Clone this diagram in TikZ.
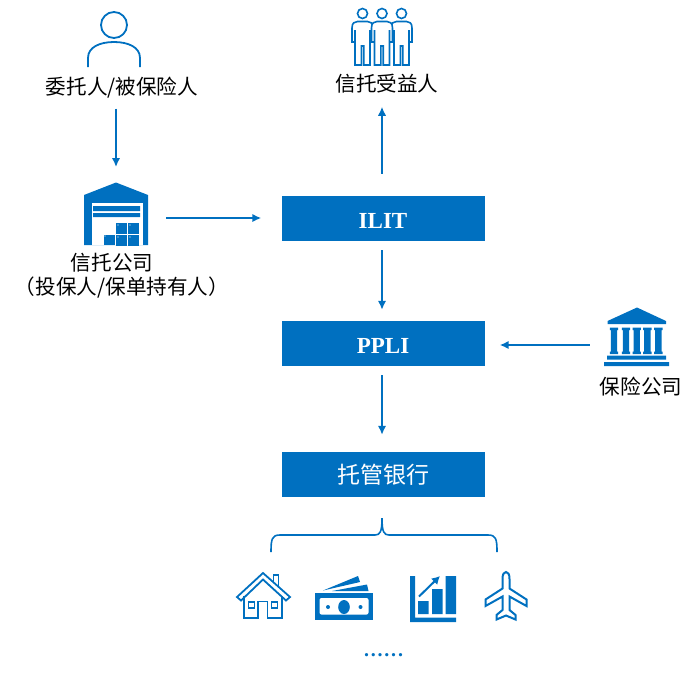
\documentclass[tikz,border=0pt]{standalone}
\usepackage{fontspec}
\setmainfont{Liberation Serif}
\newfontfamily\cjk{Noto Sans CJK SC}
\usepackage{xcolor}
\usetikzlibrary{arrows.meta, positioning}
\definecolor{trustblue}{RGB}{0,112,192}
\tikzset{
  flow/.style={trustblue, line width=1.8pt, -{Latex[length=9pt,width=8.5pt]}},
  bluebox/.style={fill=trustblue, text=white, minimum width=203, minimum height=45, inner sep=0pt},
  latinbox/.style={bluebox, text height=19pt, text depth=0pt, font=\fontsize{23}{25}\selectfont\bfseries},
  iconbox/.style={inner sep=0pt, outer sep=0pt},
  caption/.style={inner sep=0pt, font=\fontsize{20.6}{22}\selectfont\cjk},
  outline/.style={draw=trustblue, line width=1.8pt, line join=miter},
}
\begin{document}
\begin{tikzpicture}[x=1pt, y=-1pt]
  \useasboundingbox (0,0) rectangle (700,673);
  % boxes
  \node[latinbox] (ilit) at (383,218.5) {ILIT};
  \node[latinbox] (ppli) at (383,343.5) {PPLI};
  \node[bluebox, font=\fontsize{23}{25}\selectfont\cjk] (custody) at (383,474.5) {托管银行};
  % icon areas
  \node[iconbox, minimum width=54, minimum height=56] (settlor) at (114,39.5) {};
  \node[iconbox, minimum width=64, minimum height=63] (trustco) at (116,213.5) {};
  \node[iconbox, minimum width=62, minimum height=58] (trio) at (382,37) {};
  \node[iconbox, minimum width=65, minimum height=59] (bank) at (637,337) {};
  \node[iconbox, minimum width=54, minimum height=47] (house) at (263,595) {};
  \node[iconbox, minimum width=58, minimum height=44] (money) at (344,598) {};
  \node[iconbox, minimum width=46, minimum height=46] (chart) at (433,599) {};
  \node[iconbox, minimum width=42, minimum height=50] (plane) at (506,596) {};
  % labels
  \node[caption] (settlorlabel) at (122,88) {委托人/被保险人};
  \node[caption] (trustlabel) at (112,263) {信托公司};
  \node[caption] (holderlabel) at (122,288) {（投保人/保单持有人）};
  \node[caption] (benelabel) at (387,84) {信托受益人};
  \node[caption] (banklabel) at (641,387) {保险公司};
  \node[inner sep=0pt, text=trustblue, font=\fontsize{20}{22}\selectfont\bfseries] (more) at (383.5,655)
    {.\kern1.8pt.\kern1.8pt.\kern1.8pt.\kern1.8pt.\kern1.8pt.};
  % connectors
  \path (ilit.west) ++(0,-0.5) coordinate (ilitentry);
  \path (ppli.east) ++(0,1.5) coordinate (pplientry);
  \draw[flow, shorten <=10pt, shorten >=15pt] (settlor.south -| trustco.north) ++(0,31) -- (trustco.north);
  \draw[flow, shorten <=18pt, shorten >=20pt] (trustco.east |- ilitentry) -- (ilitentry);
  \draw[flow, shorten <=22pt, shorten >=13pt] (ilit.north -| trio.south) -- (trio.south |- benelabel.south);
  \draw[flow, shorten <=9pt, shorten >=11pt] (ilit.south -| trio.south) -- (ppli.north -| trio.south);
  \draw[flow, shorten <=9pt, shorten >=17pt] (ppli.south -| trio.south) -- (custody.north -| trio.south);
  \draw[flow, shorten <=15pt, shorten >=15pt] (bank.west |- pplientry) -- (pplientry);
  % brace
  \coordinate (braceleft) at (271,552);
  \coordinate (braceright) at (497,552);
  \path (custody.south -| trio.south) ++(0,21) coordinate (bracetip);
  \draw[trustblue, line width=1.6pt] (braceleft) .. controls (271,539) and (272,535) .. (280,535)
    -- (375,535) .. controls (380,535) and (382,532) .. (bracetip)
    .. controls (382,532) and (384,535) .. (389,535) -- (488,535)
    .. controls (496,535) and (497,539) .. (braceright);
  % settlor
  \draw[outline] (settlor.center) ++(0,-14.5) circle[radius=13];
  \draw[outline] (88,67) -- (88,58) .. controls (88,47) and (100,42) .. (114,42)
    .. controls (128,42) and (140,47) .. (140,58) -- (140,67);
  % warehouse
  \fill[trustblue] (84,245) -- (84,195) -- (116,182.5) -- (148,195) -- (148,245) -- cycle;
  \fill[white] (92,245) -- (92,203) -- (142.5,203) -- (142.5,245) -- cycle;
  \fill[trustblue] (93,206) rectangle (140,211) (93,213) rectangle (140,217);
  \foreach \x/\y in {103.5/234.5, 116/223, 128/223, 116/235, 128/235}
    \fill[trustblue] (\x,\y) rectangle +(11,10.5);
  \foreach \x/\y in {105/236, 118/225, 130/225, 118/237, 130/237}
    \fill[white] (\x,\y) circle[radius=0.6];
  % beneficiaries
  \foreach \c in {362.5, 401.5, 382}
    \draw[outline, line width=1.6pt, fill=white] (\c-10.5,42) -- (\c-10.5,28) .. controls (\c-10.5,23) and (\c-8,21.5) .. (\c-5,21.5)
      -- (\c+5,21.5) .. controls (\c+8,21.5) and (\c+10.5,23) .. (\c+10.5,28) -- (\c+10.5,42) -- (\c+7.5,42) -- (\c+7.5,30)
      -- (\c+7.5,65) -- (\c+1.2,65) -- (\c+1.2,46) -- (\c-1.2,46) -- (\c-1.2,65) -- (\c-7.5,65) -- (\c-7.5,30) -- (\c-7.5,42) -- cycle
      (\c,13.5) circle[radius=5];
  % bank
  \fill[trustblue] (637,307.5) -- (666,321) -- (666,324) -- (607.5,324) -- (607.5,321) -- cycle;
  \foreach \x in {614, 626, 636.7, 647.3, 658.3}
    \fill[trustblue] (\x-4.2,327.5) rectangle (\x+4.2,330) (\x-3.2,330) rectangle (\x+3.2,351.5) (\x-4.2,351.5) rectangle (\x+4.2,354);
  \fill[trustblue] (607,355.5) rectangle (666,359.5) (604,362) rectangle (669,366);
  % house
  \draw[outline] (237,597) -- (263,573) -- (290,597) -- (286,600.5) -- (263,579.5) -- (241,600.5) -- cycle;
  \draw[outline] (273.5,583) -- (273.5,575) -- (278.5,575) -- (278.5,588);
  \draw[outline] (244,596) -- (244,618) -- (258,618) -- (258,601.5) -- (267.5,601.5) -- (267.5,618) -- (282,618) -- (282,596);
  \draw[outline, line width=1.4pt] (248.5,602) rectangle (254.5,608) (271.5,602) rectangle (277.5,608);
  % money
  \fill[trustblue] (323,590.5) -- (358,576) -- (360,582) -- cycle;
  \fill[trustblue] (332,591) -- (367,584.5) -- (368.5,591) -- cycle;
  \fill[trustblue] (315,593) rectangle (373,620);
  \fill[white, rounded corners=2pt] (319.5,598) rectangle (368.5,614.5);
  \fill[trustblue] (344,607) ellipse[x radius=5.8, y radius=7];
  \fill[trustblue] (328,607) circle[radius=2] (360.5,607) circle[radius=2];
  % chart
  \fill[trustblue] (410,576) -- (415,576) -- (415,617.5) -- (456,617.5) -- (456,622) -- (410,622) -- cycle;
  \fill[trustblue] (418,601) rectangle (428.5,614) (432,589) rectangle (442.5,614) (445.5,576) rectangle (456,614);
  \draw[trustblue, line width=2pt, -{Latex[length=8pt,width=9pt]}] (419,596.5) -- (440,576);
  % plane
  \draw[outline, line width=2pt] (502.5,579) .. controls (502.5,574) and (504,572) .. (506,572)
    .. controls (508,572) and (509.5,574) .. (509.5,579) -- (509.5,588.5) -- (526.5,599.5) -- (526.5,606) -- (509.5,596.5)
    -- (509.5,610) -- (515.5,615) -- (515.5,619.5) -- (506,615.5) -- (496.5,619.5) -- (496.5,615) -- (502.5,610)
    -- (502.5,596.5) -- (485.5,606) -- (485.5,599.5) -- (502.5,588.5) -- cycle;
\end{tikzpicture}
\end{document}
